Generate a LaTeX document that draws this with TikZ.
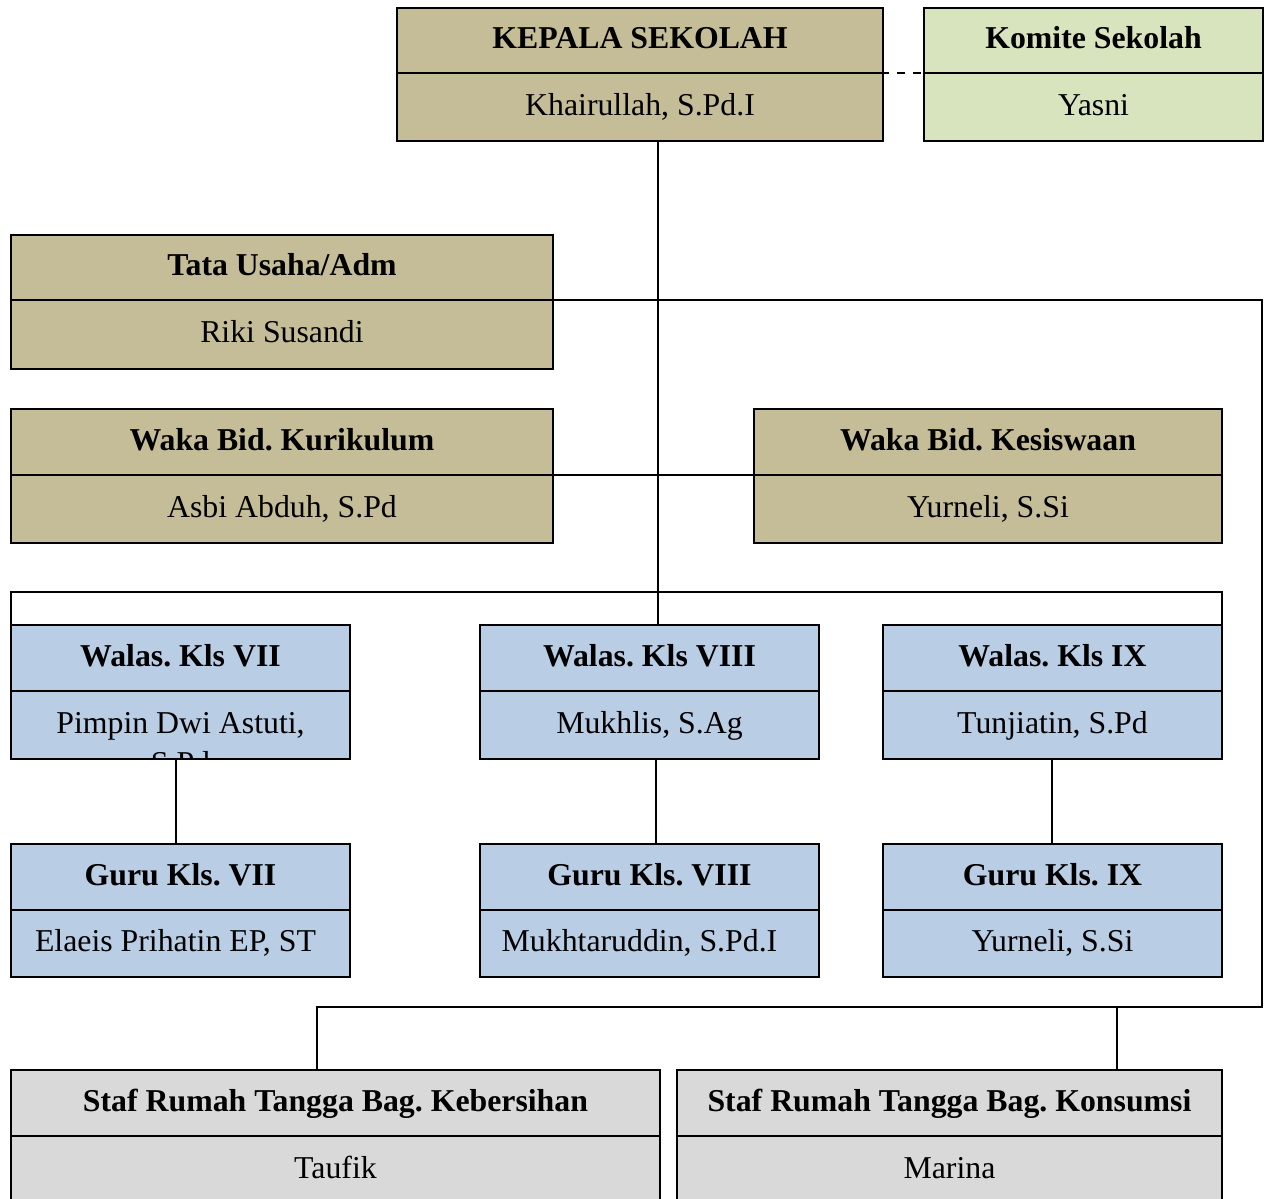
\documentclass[tikz,border=0pt]{standalone}
\usepackage{fontspec}
\setmainfont{Liberation Serif}
\frenchspacing
\definecolor{tanfill}{HTML}{C4BD97}
\definecolor{greenfill}{HTML}{D7E4BD}
\definecolor{bluefill}{HTML}{B9CDE5}
\definecolor{grayfill}{HTML}{D9D9D9}
\newcommand\orgbox[8]{%
  % #1 name, #2 x, #3 y, #4 width, #5 h1, #6 h2, #7 fill, #8 title
  \node[hdr, fill=#7, minimum width=#4pt, minimum height=#5pt] (#1H) at (#2,#3) {#8};
}
\newcommand\orgbody[6]{%
  % #1 name, #2 x, #3 y, #4 width, #5 h, #6 fill
  \node[bdy, fill=#6, minimum width=#4pt, minimum height=#5pt] (#1B) at (#2,#3)}
\begin{document}
\begin{tikzpicture}[x=1pt,y=-1pt,
  hdr/.style={draw, line width=2.2pt, inner sep=0pt, outer sep=0pt, anchor=north west,
    text height=24pt, text depth=8pt,
    font=\fontsize{31.8}{36.6}\selectfont\bfseries\frenchspacing},
  bdy/.style={draw, line width=2.2pt, inner sep=0pt, outer sep=0pt, anchor=north west,
    text height=24pt, text depth=8pt,
    font=\fontsize{31.8}{36.6}\selectfont\frenchspacing},
  link/.style={line width=1.6pt}]
\useasboundingbox (0,0) rectangle (1272,1199);
\clip (0,0) rectangle (1272,1199);

% Kepala Sekolah
\orgbox{kep}{397}{8}{486}{65}{68}{tanfill}{KEPALA SEKOLAH}
\orgbody{kep}{397}{73}{486}{68}{tanfill}{Khairullah, S.Pd.I};
% Komite
\orgbox{kom}{924}{8}{339}{65}{68}{greenfill}{Komite Sekolah}
\orgbody{kom}{924}{73}{339}{68}{greenfill}{Yasni};
% Tata Usaha
\orgbox{tata}{11}{235}{542}{65}{69}{tanfill}{Tata Usaha/Adm}
\orgbody{tata}{11}{300}{542}{69}{tanfill}{Riki Susandi};
% Waka
\orgbox{kur}{11}{409}{542}{66}{68}{tanfill}{Waka Bid. Kurikulum}
\orgbody{kur}{11}{475}{542}{68}{tanfill}{Asbi Abduh, S.Pd};
\orgbox{kes}{754}{409}{468}{66}{68}{tanfill}{Waka Bid. Kesiswaan}
\orgbody{kes}{754}{475}{468}{68}{tanfill}{Yurneli, S.Si};
% Walas
\orgbox{wa}{11}{625}{339}{66}{68}{bluefill}{Walas. Kls VII}
\orgbody{wa}{11}{691}{339}{68}{bluefill}{Pimpin Dwi Astuti,};
\begin{scope}
  \clip (11,692) rectangle (350,757.5);
  \node[font=\fontsize{31.8}{36.6}\selectfont, anchor=base, inner sep=0pt] (waextra) at (180.5,773) {S.Pd};
\end{scope}
\orgbox{wb}{480}{625}{339}{66}{68}{bluefill}{Walas. Kls VIII}
\orgbody{wb}{480}{691}{339}{68}{bluefill}{Mukhlis, S.Ag};
\orgbox{wc}{883}{625}{339}{66}{68}{bluefill}{Walas. Kls IX}
\orgbody{wc}{883}{691}{339}{68}{bluefill}{Tunjiatin, S.Pd};
% Guru
\orgbox{ga}{11}{844}{339}{66}{67}{bluefill}{Guru Kls. VII}
\orgbody{ga}{11}{910}{339}{67}{bluefill}{Elaeis Prihatin EP, ST\hspace*{10pt}};
\orgbox{gb}{480}{844}{339}{66}{67}{bluefill}{Guru Kls. VIII}
\orgbody{gb}{480}{910}{339}{67}{bluefill}{Mukhtaruddin, S.Pd.I\hspace*{20pt}};
\orgbox{gc}{883}{844}{339}{66}{67}{bluefill}{Guru Kls. IX}
\orgbody{gc}{883}{910}{339}{67}{bluefill}{Yurneli, S.Si};
% Staf
\orgbox{keb}{11}{1070}{649}{66}{68}{grayfill}{Staf Rumah Tangga Bag. Kebersihan}
\orgbody{keb}{11}{1136}{649}{68}{grayfill}{Taufik};
\orgbox{kon}{677}{1070}{545}{66}{68}{grayfill}{Staf Rumah Tangga Bag. Konsumsi}
\orgbody{kon}{677}{1136}{545}{68}{grayfill}{Marina};

% Connectors
\draw[link, dash pattern=on 8pt off 8pt, dash phase=2pt] (kepH.south east) -- (komH.south west);
\draw[link] ([xshift=18pt]kepB.south) -- ([xshift=18pt]kepB.south |- wbH.north);
\draw[link] (waH.north west) -- ++(0,-33) -| (wcH.north east);
\draw[link] (kurH.south east) -- (kesH.south west);
\coordinate (tr) at (1262,300);
\coordinate (br) at (1262,1007);
\coordinate (kebc) at ([xshift=-18.5pt]kebH.north);
\coordinate (konc) at ([xshift=167.5pt]konH.north);
\draw[link] (tataH.south east) -- (tr) -- (br) -| (kebc);
\draw[link] (konc |- br) -- (konc);
\draw[link] ([xshift=-4.5pt]waB.south) -- ([xshift=-4.5pt]waB.south |- gaH.north);
\draw[link] ([xshift=6.5pt]wbB.south) -- ([xshift=6.5pt]wbB.south |- gbH.north);
\draw[link] ([xshift=-0.5pt]wcB.south) -- ([xshift=-0.5pt]wcB.south |- gcH.north);
\end{tikzpicture}
\end{document}
